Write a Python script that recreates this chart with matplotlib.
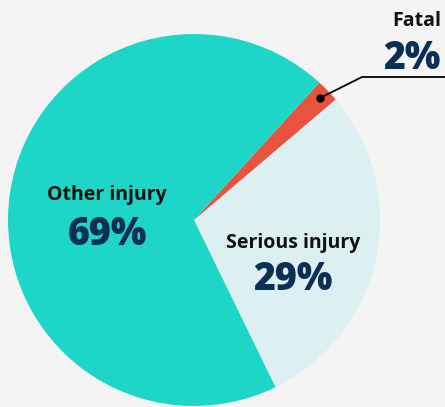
import matplotlib
matplotlib.use("Agg")
import matplotlib.pyplot as plt

# data
labels = ["Serious injury", "Fatal", "Other injury"]
shares = [29, 2, 69]
colors = ["#dcf0f1", "#e8533f", "#1dd6c8"]

W, H = 445, 407
plt.rcParams["font.family"] = ["Open Sans", "DejaVu Sans"]

fig = plt.figure(figsize=(W / 100, H / 100), dpi=100)
fig.patch.set_facecolor("#f4f4f4")
ax = fig.add_axes([0, 0, 1, 1])

cx, cy, r = 194, H - 220, 186
ax.pie(shares, colors=colors, startangle=-64, counterclock=True,
       center=(cx, cy), radius=r, frame=True,
       wedgeprops=dict(linewidth=0))
ax.set_xlim(0, W)
ax.set_ylim(0, H)
ax.set_aspect("equal")
ax.axis("off")

navy = "#0b2f55"
lab_kw = dict(fontsize=14, fontweight="bold", color="#111111", va="baseline")
pct_kw = dict(fontsize=27, fontweight="heavy", color=navy, va="baseline")
# labels
ax.text(107, H - 200, labels[2], ha="center", **lab_kw)
ax.text(107, H - 245, f"{shares[2]}%", ha="center", **pct_kw)
ax.text(293, H - 248, labels[0], ha="center", **lab_kw)
ax.text(293, H - 290, f"{shares[0]}%", ha="center", **pct_kw)
ax.text(441, H - 26, labels[1], ha="right", **lab_kw)
ax.text(441, H - 69, f"{shares[1]}%", ha="right", **pct_kw)

# leader line for Fatal
ax.plot([320, 362, W], [H - 98, H - 77, H - 77], color="black", lw=1.3,
        solid_capstyle="butt")
ax.plot(320, H - 98, "o", color="black", ms=5)

fig.savefig("out.png", dpi=100, facecolor=fig.get_facecolor())
